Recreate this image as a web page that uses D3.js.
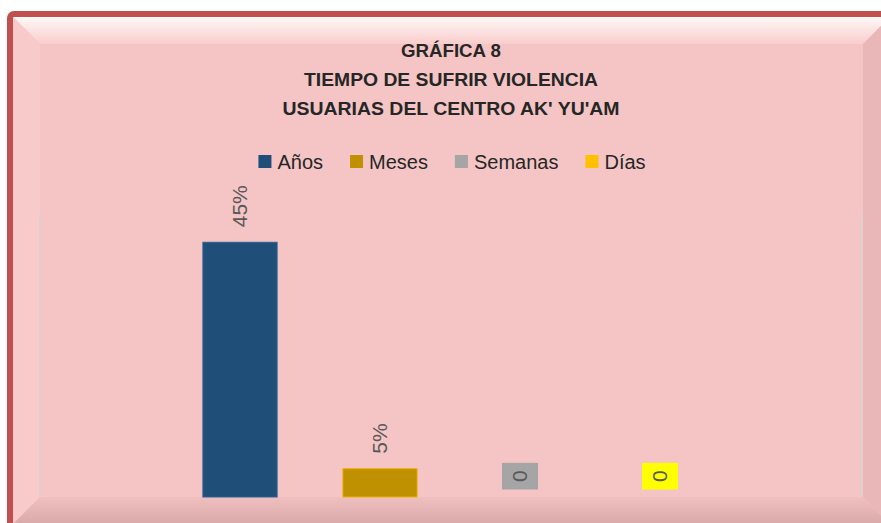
<!DOCTYPE html>
<html>
<head>
<meta charset="utf-8">
<script src="https://cdn.jsdelivr.net/npm/d3@7"></script>
<style>
  body { margin: 0; background: #ffffff; }
  svg { display: block; }
</style>
</head>
<body>
<div id="chart"></div>
<script>
// data
const series = ["Años", "Meses", "Semanas", "Días"];
const values = [45, 5, 0, 0];
const labels = ["45%", "5%", "0", "0"];
const colors = ["#1f4e79", "#bf9000", "#a5a5a5", "#ffc000"];
const labelFills = [null, null, "#a5a5a5", "#ffff00"];
const titleLines = ["GRÁFICA 8", "TIEMPO DE SUFRIR VIOLENCIA", "USUARIAS DEL CENTRO AK' YU'AM"];

const width = 881, height = 523;
const plot = {left: 40, right: 861, top: 214, bottom: 497};

const svg = d3.select("#chart")
    .append("svg")
    .attr("width", width)
    .attr("height", height);

const defs = svg.append("defs");
const topGrad = defs.append("linearGradient").attr("id", "topGrad")
    .attr("x1", 0).attr("y1", 0).attr("x2", 0).attr("y2", 1);
topGrad.append("stop").attr("offset", 0).attr("stop-color", "#fff8f8");
topGrad.append("stop").attr("offset", 1).attr("stop-color", "#f9cccc");
const botGrad = defs.append("linearGradient").attr("id", "botGrad")
    .attr("x1", 0).attr("y1", 0).attr("x2", 0).attr("y2", 1);
botGrad.append("stop").attr("offset", 0).attr("stop-color", "#f0c0c0");
botGrad.append("stop").attr("offset", 1).attr("stop-color", "#d9a8a8");

// frame with bevel
const outer = {x0: 13, y0: 17, x1: 890, y1: 524};
const bev = 27;
const inner = {x0: outer.x0 + bev, y0: outer.y0 + bev, x1: outer.x1 - bev, y1: outer.y1 - bev};

svg.append("rect")
    .attr("x", 10).attr("y", 14)
    .attr("width", 900).attr("height", 530)
    .attr("rx", 4)
    .attr("fill", "#f5c5c5")
    .attr("stroke", "#c0504d")
    .attr("stroke-width", 6);

const pts = p => p.map(d => d.join(",")).join(" ");
// top
svg.append("polygon").attr("points", pts([[outer.x0, outer.y0], [outer.x1, outer.y0], [inner.x1, inner.y0], [inner.x0, inner.y0]]))
    .attr("fill", "url(#topGrad)");
// left
svg.append("polygon").attr("points", pts([[outer.x0, outer.y0], [inner.x0, inner.y0], [inner.x0, inner.y1], [outer.x0, outer.y1]]))
    .attr("fill", "#f9caca");
// right
svg.append("polygon").attr("points", pts([[outer.x1, outer.y0], [outer.x1, outer.y1], [inner.x1, inner.y1], [inner.x1, inner.y0]]))
    .attr("fill", "#e9b7b7");
// bottom
svg.append("polygon").attr("points", pts([[outer.x0, outer.y1], [inner.x0, inner.y1], [inner.x1, inner.y1], [outer.x1, outer.y1]]))
    .attr("fill", "url(#botGrad)");
// face
svg.append("rect")
    .attr("x", inner.x0).attr("y", inner.y0)
    .attr("width", inner.x1 - inner.x0).attr("height", inner.y1 - inner.y0)
    .attr("fill", "#f5c5c5");

// title
const titleWidths = [100, 294, 337];
svg.append("g").selectAll("text")
    .data(titleLines)
    .join("text")
    .attr("x", 451)
    .attr("y", (d, i) => 57 + i * 29)
    .attr("text-anchor", "middle")
    .attr("font-family", "Liberation Sans, Arial, sans-serif")
    .attr("font-weight", "bold")
    .attr("font-size", 19)
    .attr("fill", "#262626")
    .attr("textLength", (d, i) => titleWidths[i])
    .attr("lengthAdjust", "spacingAndGlyphs")
    .text(d => d);

// legend
const legend = svg.append("g");
const items = legend.selectAll("g")
    .data(series)
    .join("g");
items.append("rect")
    .attr("width", 13).attr("height", 13)
    .attr("y", 155)
    .attr("fill", (d, i) => colors[i]);
items.append("text")
    .attr("x", 19)
    .attr("y", 169)
    .attr("font-family", "Liberation Sans, Arial, sans-serif")
    .attr("font-size", 20)
    .attr("fill", "#262626")
    .text(d => d);
let lx = 0;
const offsets = [];
items.each(function() {
    offsets.push(lx);
    lx += 19 + this.querySelector("text").getComputedTextLength() + 27;
});
const totalW = lx - 27;
const startX = 452 - totalW / 2;
items.attr("transform", (d, i) => `translate(${startX + offsets[i]},0)`);

// scales
const x = d3.scaleBand()
    .domain(series)
    .range([170, 730])
    .paddingInner(0.47)
    .paddingOuter(0.235);

const y = d3.scaleLinear()
    .domain([0, 50])
    .range([plot.bottom, plot.top]);

// plot area edges
svg.append("g").selectAll("line")
    .data([plot.left, plot.right])
    .join("line")
    .attr("x1", d => d).attr("x2", d => d)
    .attr("y1", plot.top).attr("y2", plot.bottom)
    .attr("stroke", "#ddd0d0")
    .attr("stroke-width", 2);

// bars
svg.append("g").selectAll("rect")
    .data(series)
    .join("rect")
    .attr("x", d => x(d))
    .attr("y", (d, i) => y(values[i]))
    .attr("width", x.bandwidth())
    .attr("height", (d, i) => y(0) - y(values[i]))
    .attr("fill", (d, i) => colors[i])
    .attr("stroke", (d, i) => values[i] > 0 ? d3.color(colors[i]).brighter(0.6) : "none")
    .attr("stroke-width", 1);

// data labels (rotated)
const lab = svg.append("g").selectAll("g")
    .data(series)
    .join("g")
    .attr("transform", (d, i) => `translate(${x(d) + x.bandwidth() / 2},${y(values[i]) - 15}) rotate(-90)`);

lab.append("text")
    .attr("x", 0)
    .attr("y", 7)
    .attr("font-family", "Liberation Sans, Arial, sans-serif")
    .attr("font-size", 21)
    .attr("fill", "#595959")
    .text((d, i) => labels[i]);

lab.each(function(d, i) {
    if (!labelFills[i]) return;
    const g = d3.select(this);
    const len = g.select("text").node().getComputedTextLength();
    g.insert("rect", "text")
        .attr("x", -7.5)
        .attr("y", -18)
        .attr("width", len + 15)
        .attr("height", 36)
        .attr("fill", labelFills[i]);
});
</script>
</body>
</html>
